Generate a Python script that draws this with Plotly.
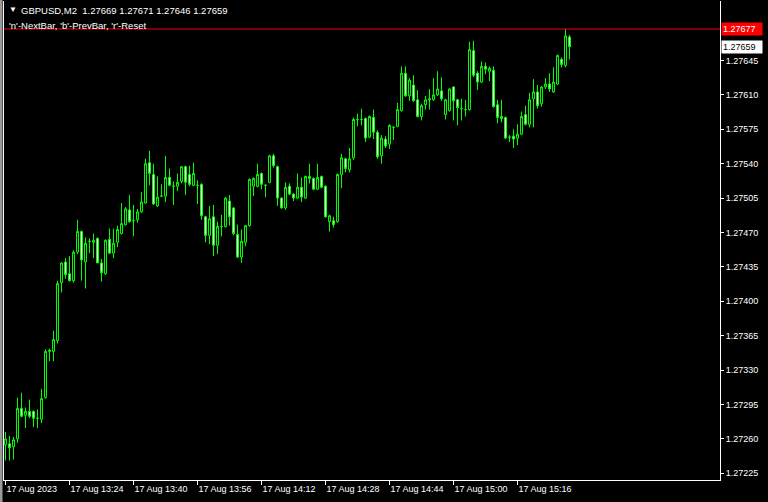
import plotly.graph_objects as go

# ---- data (GBPUSD, M2) ----
opens = [1.27254,1.27255,1.27252,1.27260,1.27291,1.27284,1.27288,1.27288,1.27281,1.27280,
         1.27302,1.27349,1.27349,1.27360,1.27419,1.27440,1.27428,1.27421,1.27450,1.27471,
         1.27440,1.27461,1.27460,1.27464,1.27439,1.27428,1.27463,1.27449,1.27460,1.27469,
         1.27478,1.27493,1.27482,1.27483,1.27491,1.27500,1.27541,1.27529,1.27497,1.27507,
         1.27507,1.27526,1.27517,1.27517,1.27522,1.27537,1.27529,1.27518,1.27518,1.27519,
         1.27486,1.27467,1.27486,1.27457,1.27476,1.27476,1.27502,1.27495,1.27468,1.27445,
         1.27460,1.27477,1.27517,1.27517,1.27530,1.27518,1.27521,1.27548,1.27537,1.27505,
         1.27495,1.27517,1.27509,1.27505,1.27516,1.27505,1.27527,1.27525,1.27514,1.27527,
         1.27517,1.27481,1.27482,1.27481,1.27529,1.27545,1.27534,1.27546,1.27585,1.27585,
         1.27586,1.27567,1.27587,1.27572,1.27548,1.27565,1.27560,1.27577,1.27578,1.27594,
         1.27632,1.27609,1.27620,1.27605,1.27588,1.27600,1.27606,1.27605,1.27610,1.27614,
         1.27590,1.27594,1.27618,1.27605,1.27596,1.27595,1.27595,1.27655,1.27632,1.27623,
         1.27639,1.27634,1.27635,1.27600,1.27588,1.27587,1.27567,1.27568,1.27566,1.27570,
         1.27590,1.27580,1.27606,1.27613,1.27601,1.27618,1.27621,1.27613,1.27621,1.27646,
         1.27640,1.27669]
highs = [1.27267,1.27263,1.27262,1.27302,1.27307,1.27292,1.27300,1.27289,1.27290,1.27311,
         1.27351,1.27352,1.27370,1.27421,1.27440,1.27444,1.27446,1.27452,1.27483,1.27472,
         1.27465,1.27464,1.27469,1.27465,1.27443,1.27463,1.27474,1.27474,1.27477,1.27500,
         1.27496,1.27508,1.27498,1.27494,1.27511,1.27545,1.27553,1.27540,1.27527,1.27519,
         1.27548,1.27535,1.27522,1.27530,1.27537,1.27538,1.27538,1.27541,1.27523,1.27520,
         1.27487,1.27497,1.27498,1.27481,1.27488,1.27506,1.27508,1.27496,1.27478,1.27473,
         1.27477,1.27525,1.27526,1.27540,1.27531,1.27519,1.27549,1.27550,1.27538,1.27506,
         1.27521,1.27520,1.27510,1.27530,1.27526,1.27528,1.27540,1.27526,1.27540,1.27528,
         1.27518,1.27488,1.27486,1.27530,1.27550,1.27546,1.27556,1.27587,1.27591,1.27596,
         1.27587,1.27589,1.27595,1.27574,1.27569,1.27568,1.27580,1.27578,1.27602,1.27639,
         1.27639,1.27627,1.27630,1.27615,1.27601,1.27609,1.27616,1.27627,1.27634,1.27628,
         1.27606,1.27617,1.27619,1.27606,1.27606,1.27605,1.27664,1.27665,1.27634,1.27644,
         1.27643,1.27639,1.27639,1.27605,1.27605,1.27588,1.27569,1.27575,1.27580,1.27593,
         1.27599,1.27612,1.27626,1.27620,1.27619,1.27627,1.27632,1.27638,1.27651,1.27648,
         1.27677,1.27671]
lows = [1.27238,1.27238,1.27239,1.27256,1.27282,1.27271,1.27281,1.27272,1.27271,1.27276,
        1.27301,1.27339,1.27339,1.27357,1.27409,1.27423,1.27420,1.27419,1.27448,1.27421,
        1.27413,1.27449,1.27444,1.27439,1.27420,1.27427,1.27448,1.27444,1.27455,1.27468,
        1.27477,1.27480,1.27466,1.27480,1.27490,1.27499,1.27518,1.27498,1.27496,1.27506,
        1.27501,1.27517,1.27498,1.27512,1.27520,1.27508,1.27517,1.27517,1.27499,1.27483,
        1.27460,1.27458,1.27446,1.27448,1.27466,1.27475,1.27477,1.27467,1.27444,1.27439,
        1.27456,1.27476,1.27507,1.27516,1.27514,1.27506,1.27520,1.27536,1.27497,1.27494,
        1.27493,1.27508,1.27502,1.27504,1.27501,1.27504,1.27520,1.27513,1.27513,1.27515,
        1.27485,1.27471,1.27475,1.27480,1.27515,1.27531,1.27531,1.27544,1.27578,1.27579,
        1.27562,1.27566,1.27565,1.27545,1.27540,1.27556,1.27555,1.27564,1.27577,1.27593,
        1.27608,1.27604,1.27603,1.27587,1.27584,1.27595,1.27595,1.27604,1.27609,1.27604,
        1.27585,1.27593,1.27584,1.27579,1.27584,1.27588,1.27594,1.27628,1.27615,1.27622,
        1.27631,1.27624,1.27597,1.27581,1.27582,1.27565,1.27562,1.27556,1.27559,1.27569,
        1.27579,1.27577,1.27577,1.27596,1.27598,1.27616,1.27613,1.27612,1.27620,1.27638,
        1.27638,1.27646]
closes = [1.27260,1.27251,1.27259,1.27291,1.27283,1.27288,1.27283,1.27281,1.27281,1.27301,
          1.27349,1.27350,1.27361,1.27418,1.27439,1.27427,1.27421,1.27450,1.27471,1.27442,
          1.27459,1.27461,1.27462,1.27439,1.27429,1.27462,1.27449,1.27459,1.27473,1.27479,
          1.27494,1.27481,1.27482,1.27491,1.27501,1.27540,1.27530,1.27499,1.27506,1.27507,
          1.27526,1.27518,1.27517,1.27521,1.27537,1.27521,1.27519,1.27530,1.27518,1.27487,
          1.27467,1.27484,1.27457,1.27476,1.27476,1.27505,1.27486,1.27469,1.27445,1.27461,
          1.27477,1.27524,1.27525,1.27529,1.27519,1.27518,1.27548,1.27538,1.27505,1.27495,
          1.27516,1.27509,1.27505,1.27516,1.27506,1.27527,1.27525,1.27514,1.27526,1.27516,
          1.27486,1.27487,1.27478,1.27529,1.27546,1.27535,1.27545,1.27585,1.27585,1.27585,
          1.27566,1.27588,1.27572,1.27547,1.27566,1.27558,1.27579,1.27577,1.27595,1.27632,
          1.27609,1.27625,1.27604,1.27588,1.27599,1.27605,1.27605,1.27610,1.27616,1.27606,
          1.27605,1.27616,1.27604,1.27597,1.27596,1.27595,1.27656,1.27630,1.27623,1.27639,
          1.27636,1.27637,1.27598,1.27587,1.27586,1.27566,1.27567,1.27565,1.27570,1.27588,
          1.27580,1.27605,1.27613,1.27599,1.27618,1.27621,1.27616,1.27623,1.27650,1.27641,
          1.27670,1.27659]

time_tick_bars = [0, 16, 32, 48, 64, 80, 96, 112, 128]
time_tick_labels = ["17 Aug 2023", "17 Aug 13:24", "17 Aug 13:40", "17 Aug 13:56",
                    "17 Aug 14:12", "17 Aug 14:28", "17 Aug 14:44", "17 Aug 15:00",
                    "17 Aug 15:16"]
price_ticks = [1.27225, 1.27260, 1.27295, 1.27330, 1.27365, 1.27400, 1.27435,
               1.27470, 1.27505, 1.27540, 1.27575, 1.27610, 1.27645]
price_tick_labels = ["%.5f" % p for p in price_ticks]
red_line_price = 1.27677
bid_price = 1.27659
header = "GBPUSD,M2  1.27669 1.27671 1.27646 1.27659"
subheader = "'n'-NextBar, 'b'-PrevBar, 'r'-Reset"

bars = list(range(len(opens)))
FONT = "Liberation Sans, Arial, sans-serif"
LIME = "#00FF00"
FS = 9

fig = go.Figure()
fig.add_trace(go.Candlestick(
    x=bars, open=opens, high=highs, low=lows, close=closes,
    increasing=dict(line=dict(color=LIME, width=1), fillcolor="black"),
    decreasing=dict(line=dict(color=LIME, width=1), fillcolor="white"),
    whiskerwidth=0, hoverinfo="skip", showlegend=False,
))

fig.add_shape(type="line", xref="paper", x0=0, x1=1, yref="y",
              y0=red_line_price, y1=red_line_price,
              line=dict(color="#FF0000", width=1))

# window border strip at far left
fig.add_shape(type="rect", xref="paper", yref="paper",
              x0=-4 / 716, x1=-1.5 / 716, y0=-22 / 479, y1=1 + 1 / 479,
              line=dict(width=0), fillcolor="#9A9A9A", layer="above")

fig.add_annotation(xref="paper", x=1, xanchor="left", xshift=1, yref="y", y=red_line_price,
                   text="1.27677", showarrow=False, bgcolor="#FF0000", width=38,
                   align="left", font=dict(family=FONT, size=FS, color="white"), borderpad=1)
fig.add_annotation(xref="paper", x=1, xanchor="left", xshift=1, yref="y", y=bid_price,
                   text="1.27659", showarrow=False, bgcolor="white", width=38,
                   align="left", font=dict(family=FONT, size=FS, color="black"), borderpad=1)

fig.add_annotation(xref="paper", yref="paper", x=0, y=1, xanchor="left", yanchor="top",
                   xshift=3, yshift=-2, text="▼", showarrow=False,
                   font=dict(family=FONT, size=8, color="white"))
fig.add_annotation(xref="paper", yref="paper", x=0, y=1, xanchor="left", yanchor="top",
                   xshift=15, yshift=-2, text=header, showarrow=False,
                   font=dict(family=FONT, size=FS + 0.5, color="white"))
fig.add_annotation(xref="paper", yref="paper", x=0, y=1, xanchor="left", yanchor="top",
                   xshift=3, yshift=-17, text=subheader, showarrow=False,
                   font=dict(family=FONT, size=FS + 0.5, color="white"))

fig.update_layout(
    width=768, height=502,
    margin=dict(l=4, r=48, t=1, b=22, autoexpand=False),
    paper_bgcolor="black", plot_bgcolor="black",
    font=dict(family=FONT, size=FS, color="white"),
    boxgap=0.3, boxgroupgap=0.3,
    xaxis=dict(range=[-0.375, 178.625], rangeslider=dict(visible=False),
               tickvals=time_tick_bars, ticktext=time_tick_labels,
               ticks="outside", ticklen=4, tickcolor="white", tickangle=0,
               ticklabelposition="outside right", automargin=False,
               showgrid=False, zeroline=False, showline=True, linecolor="white",
               linewidth=1, mirror=False, fixedrange=True),
    yaxis=dict(range=[1.272182, 1.277055], side="right", automargin=False,
               tickvals=price_ticks, ticktext=price_tick_labels,
               ticks="outside", ticklen=3, tickcolor="white",
               showgrid=False, zeroline=False, showline=True, linecolor="white",
               linewidth=1, mirror=True, fixedrange=True),
)

fig.write_html("out.html", config={"displayModeBar": False},
               post_script="document.body.style.margin='0px';")
